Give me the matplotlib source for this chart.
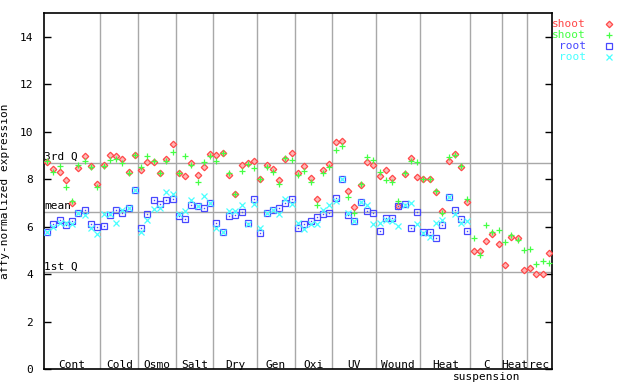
import matplotlib
matplotlib.use("Agg")
import matplotlib.pyplot as plt
import numpy as np

groups = ["Cont", "Cold", "Osmo", "Salt", "Dry", "Gen", "Oxi", "UV", "Wound",
          "Heat", "C\nsuspension", "Heat", "rec"]
group_sizes = [9, 6, 6, 6, 7, 6, 6, 7, 7, 8, 5, 4, 4]

shoot_red = [
    8.71, 8.43, 8.29, 7.99, 7.02, 8.46, 8.98, 8.56, 7.78,
    8.60, 9.02, 8.96, 8.85, 8.31, 9.02,
    8.41, 8.71, 8.74, 8.25, 8.86, 9.48,
    8.27, 8.12, 8.67, 8.16, 8.50, 9.05,
    9.02, 9.10, 8.17, 7.37, 8.62, 8.67, 8.77,
    8.01, 8.60, 8.43, 7.96, 8.85, 9.09,
    8.25, 8.55, 8.06, 7.16, 8.39, 8.64,
    9.57, 9.61, 7.50, 6.85, 7.74, 8.71, 8.58,
    8.15, 8.39, 8.06, 6.88, 8.22, 8.88, 8.08,
    8.03, 8.01, 7.47, 6.68, 8.78, 9.05, 8.53, 7.06,
    4.97, 5.00, 5.42, 5.70, 5.26,
    4.41, 5.55, 5.51, 4.16,
    4.28, 4.03, 4.03, 4.89,
]
shoot_green = [
    8.75, 8.29, 8.54, 7.66, 7.08, 8.60, 8.78, 8.53, 7.67,
    8.57, 8.81, 8.85, 8.67, 8.27, 9.02,
    8.50, 9.00, 8.77, 8.25, 8.79, 9.13,
    8.27, 8.96, 8.58, 7.87, 8.71, 8.97,
    8.77, 9.10, 8.27, 7.37, 8.34, 8.65, 8.47,
    8.01, 8.50, 8.29, 7.82, 8.88, 8.83,
    8.17, 8.34, 7.87, 6.91, 8.27, 8.53,
    9.23, 9.42, 7.27, 6.60, 7.82, 8.92, 8.83,
    8.30, 7.96, 7.87, 7.08, 8.27, 8.77, 8.71,
    8.01, 8.01, 7.50, 6.57, 8.92, 9.02, 8.55, 7.16,
    5.51, 4.80, 6.07, 5.76, 5.88,
    5.34, 5.65, 5.46, 5.04,
    5.08, 4.45, 4.55, 4.49,
]
root_blue = [
    5.76, 6.10, 6.27, 6.07, 6.24, 6.59, 6.69, 6.11, 5.99,
    6.03, 6.49, 6.69, 6.60, 6.80, 7.53,
    5.93, 6.52, 7.11, 6.94, 7.11, 7.16,
    6.47, 6.31, 6.91, 6.87, 6.77, 6.99,
    6.14, 5.76, 6.45, 6.49, 6.64, 6.18, 7.19,
    5.72, 6.60, 6.71, 6.77, 7.02, 7.19,
    5.93, 6.11, 6.24, 6.41, 6.52, 6.57,
    7.20, 8.02, 6.51, 6.26, 7.06, 6.66, 6.57,
    5.81, 6.35, 6.35, 6.88, 6.94, 5.93, 6.64,
    5.79, 5.79, 5.51, 6.06, 7.24, 6.70, 6.31, 5.84,
]
root_cyan = [
    5.79, 6.00, 6.14, 6.18, 6.10, 6.56, 6.49, 5.93, 5.69,
    6.53, 6.52, 6.18, 6.70, 6.81, 7.53,
    5.76, 6.28, 6.73, 6.80, 7.46, 7.36,
    6.52, 6.66, 7.12, 6.87, 7.29, 7.01,
    5.96, 5.80, 6.66, 6.66, 6.91, 6.10, 6.94,
    5.96, 6.60, 6.71, 6.54, 7.16, 6.97,
    6.18, 5.90, 6.10, 6.12, 6.69, 6.91,
    7.09, 8.02, 6.57, 6.24, 7.04, 6.90, 6.12,
    6.18, 6.27, 6.24, 6.05, 6.93, 7.02, 6.10,
    5.74, 5.57, 6.16, 6.27, 7.26, 6.52, 6.18, 6.23,
]
stat_values = [8.69, 6.62, 4.09]
stat_labels = ["3rd Q", "mean", "1st Q"]
yticks = [0, 2, 4, 6, 8, 10, 12, 14]

RED = "#ff4848"
GREEN = "#44ff44"
BLUE = "#4848ff"
CYAN = "#48ffff"
GRID = "#a8a8a8"
FONT = "DejaVu Sans Mono"
FS = 8

fig = plt.figure(figsize=(6.4, 3.84), dpi=100)
ax = fig.add_axes([44 / 640, 1 - 369.3 / 384, (552 - 44) / 640, (369.3 - 13) / 384])

n_total = sum(group_sizes)
bounds = np.cumsum(group_sizes)
for b in bounds[:-1]:
    ax.axvline(b, color=GRID, lw=1, zorder=1)
for v, lab in zip(stat_values, stat_labels):
    ax.axhline(v, color=GRID, lw=1, zorder=1)
    ax.text(0.0, v + 0.03, lab, fontfamily=FONT, fontsize=FS, va="bottom", ha="left", zorder=2)

red_m = dict(marker="D", ms=3.3, mfc="#ffb8b8", mec=RED, mew=0.9)
green_m = dict(marker="+", ms=5, mec=GREEN, mew=0.9)
blue_m = dict(marker="s", ms=4, mfc="none", mec=BLUE, mew=0.9)
cyan_m = dict(marker="x", ms=3.8, mec=CYAN, mew=0.9)

xs = np.arange(n_total) + 0.5
xr = np.arange(len(root_blue)) + 0.5
ax.plot(xs, shoot_red, ls="none", zorder=3, **red_m)
ax.plot(xs, shoot_green, ls="none", zorder=4, **green_m)
ax.plot(xr, root_blue, ls="none", zorder=3, **blue_m)
ax.plot(xr, root_blue, ls="none", marker="s", ms=1.0, mfc=BLUE, mec=BLUE, mew=0, zorder=3)
ax.plot(xr, root_cyan, ls="none", zorder=3, **cyan_m)

starts = np.concatenate([[0], bounds[:-1]])
for s, e, name in zip(starts, bounds, groups):
    c = (s + e) / 2
    lines = name.split("\n")
    ax.text(c, 0.2, lines[0], ha="center", va="center", fontfamily=FONT, fontsize=FS, zorder=2)
    if len(lines) > 1:
        ax.text(c, -0.31, lines[1], ha="center", va="center", fontfamily=FONT,
                fontsize=FS, clip_on=False)

ax.set_xlim(0, n_total)
ax.set_ylim(0, 15)
ax.set_xticks([])
ax.set_yticks(yticks)
ax.set_yticklabels([str(t) for t in yticks], fontfamily=FONT, fontsize=FS)
ax.tick_params(axis="y", direction="in", length=5, width=1, right=True, left=True, pad=8)
for sp in ax.spines.values():
    sp.set_linewidth(1.2)
ax.set_ylabel("affy-normalized expression", fontfamily=FONT, fontsize=FS)
ax.yaxis.set_label_coords(-0.066, 0.5)

# legend
leg = [("shoot", RED), ("shoot", GREEN), ("root", BLUE), ("root", CYAN)]
leg_y = [23.7, 34.7, 45.7, 56.7]
for (lab, col), y in zip(leg, leg_y):
    fig.text(586 / 640, 1 - y / 384, lab, color=col, fontfamily=FONT, fontsize=FS,
             ha="right", va="center")
for m, y in zip([red_m, green_m, blue_m, cyan_m], leg_y):
    fig.add_artist(plt.Line2D([609 / 640], [1 - y / 384], ls="none",
                              transform=fig.transFigure, **m))

fig.savefig("out.png", dpi=100)
